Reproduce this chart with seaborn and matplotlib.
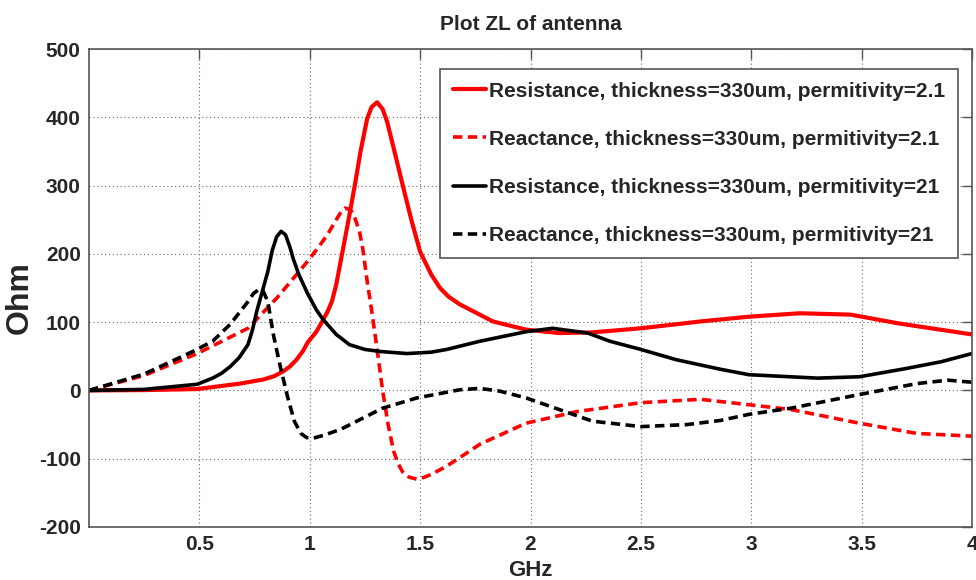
import matplotlib
matplotlib.use('Agg')
import matplotlib.pyplot as plt
import seaborn as sns
import numpy as np
import pandas as pd

##################################################################################
# data (GHz, Ohm)
##################################################################################
# resistance, permitivity 2.1 (red solid)
GHZ_R1 = [0, 0.25, 0.49, 0.684, 0.79, 0.84, 0.88, 0.91, 0.94, 0.97, 0.99, 1.03,
          1.06, 1.08, 1.10, 1.12, 1.137, 1.17, 1.205, 1.23, 1.26, 1.28, 1.305, 1.33,
          1.35, 1.38, 1.42, 1.46, 1.50, 1.55, 1.59, 1.63, 1.68, 1.77, 1.83, 1.98,
          2.13, 2.28, 2.50, 2.77, 2.99, 3.22, 3.45, 3.67, 4.0]
RES_R1 = [0, 0.5, 2, 10, 16, 21, 28, 35, 45, 58, 70, 86,
          103, 115, 130, 155, 184, 240, 302, 350, 398, 415, 422, 412,
          394, 355, 302, 250, 203, 170, 150, 137, 126, 111, 101, 89,
          84, 85, 91, 101, 108, 113, 111, 98, 82]

# reactance, permitivity 2.1 (red dashed)
GHZ_X1 = [0, 0.25, 0.49, 0.72, 0.85, 0.99, 1.04, 1.08, 1.12, 1.145, 1.16, 1.18,
          1.19, 1.205, 1.225, 1.24, 1.26, 1.28, 1.30, 1.33, 1.355, 1.38, 1.40, 1.42,
          1.45, 1.485, 1.52, 1.55, 1.62, 1.70, 1.77, 1.83, 1.98, 2.21, 2.50, 2.77,
          2.99, 3.18, 3.49, 3.75, 4.0]
REA_X1 = [0, 22, 54, 91, 135, 189, 210, 228, 250, 263, 267, 265,
          262, 252, 233, 208, 160, 118, 72, 0, -50, -89, -107, -119,
          -127, -130, -127, -123, -111, -94, -79, -70, -48, -31, -18, -13,
          -21, -28, -48, -63, -67]

# resistance, permitivity 21 (black solid)
GHZ_R2 = [0, 0.25, 0.49, 0.56, 0.60, 0.64, 0.68, 0.72, 0.74, 0.76, 0.785, 0.81,
          0.83, 0.85, 0.87, 0.89, 0.91, 0.925, 0.95, 0.99, 1.03, 1.06, 1.12, 1.18,
          1.25, 1.32, 1.44, 1.55, 1.62, 1.77, 1.83, 1.98, 2.10, 2.26, 2.36, 2.50,
          2.66, 2.86, 2.99, 3.30, 3.49, 3.70, 3.86, 4.0]
RES_R2 = [0, 1.5, 9, 18, 25, 35, 48, 67, 88, 116, 145, 174,
          205, 225, 233, 228, 210, 193, 170, 142, 118, 104, 82, 67,
          60, 57, 54, 56, 60, 72, 76, 86, 91, 84, 72, 60,
          45, 31, 23, 18, 20, 32, 42, 54]

# reactance, permitivity 21 (black dashed)
GHZ_X2 = [0, 0.25, 0.47, 0.56, 0.64, 0.72, 0.745, 0.77, 0.79, 0.81, 0.835, 0.865,
          0.90, 0.93, 0.96, 0.985, 1.015, 1.06, 1.14, 1.33, 1.485, 1.68, 1.77, 1.86,
          1.98, 2.13, 2.28, 2.50, 2.71, 2.86, 2.99, 3.18, 3.49, 3.75, 3.89, 4.0]
REA_X2 = [0, 24, 57, 72, 97, 130, 142, 148, 145, 130, 82, 37,
          -10, -45, -63, -69, -70, -66, -57, -26, -11, 1, 3, -1,
          -11, -28, -45, -53, -50, -44, -35, -26, -6, 10, 15, 12]

LABELS = ['Resistance, thickness=330um, permitivity=2.1',
          'Reactance, thickness=330um, permitivity=2.1',
          'Resistance, thickness=330um, permitivity=21',
          'Reactance, thickness=330um, permitivity=21']

X_TICKS = [0.5, 1, 1.5, 2, 2.5, 3, 3.5, 4]
X_TICK_LABS = ['0.5', '1', '1.5', '2', '2.5', '3', '3.5', '4']
Y_TICKS = [-200, -100, 0, 100, 200, 300, 400, 500]

##################################################################################
# plotting
##################################################################################
sns.set_style('white')
plt.rcParams['font.family'] = ['Liberation Sans', 'DejaVu Sans']
plt.rcParams['font.weight'] = 'bold'
plt.rcParams['axes.unicode_minus'] = False

fig = plt.figure(figsize=(9.76, 5.8), dpi=100)
ax = fig.add_axes([0.0912, 0.0914, 0.9047, 0.8241])

series = [
    (GHZ_R1, RES_R1, LABELS[0], 'red', 3.0, None),
    (GHZ_X1, REA_X1, LABELS[1], 'red', 2.6, (2.6, 1.5)),
    (GHZ_R2, RES_R2, LABELS[2], 'black', 2.6, None),
    (GHZ_X2, REA_X2, LABELS[3], 'black', 2.6, (2.6, 1.5)),
]

for ghz, ohm, lab, col, lw, dsh in series:
    df = pd.DataFrame({'GHz': ghz, 'Ohm': ohm})
    sns.lineplot(data=df, x='GHz', y='Ohm', ax=ax, color=col, lw=lw,
                 label=lab, sort=False, estimator=None,
                 solid_joinstyle='round', dash_joinstyle='round')
    if dsh is not None:
        ax.lines[-1].set_dashes(dsh)

ax.set_xlim(0, 4)
ax.set_ylim(-200, 500)
ax.set_xticks(X_TICKS)
ax.set_xticklabels(X_TICK_LABS)
ax.set_yticks(Y_TICKS)

ax.grid(True, color='#666666', linestyle=(0, (1, 2.5)), lw=0.8)
ax.set_axisbelow(True)
for sp in ax.spines.values():
    sp.set_color('#555555')
    sp.set_linewidth(1.2)

ax.tick_params(direction='in', length=7, width=1, color='#555555',
               top=True, right=True, labelsize=15, pad=6)
for t in ax.get_xticklabels() + ax.get_yticklabels():
    t.set_fontweight('bold')

ax.set_xlabel('GHz', fontsize=16, fontweight='bold', labelpad=4)
ax.set_ylabel('Ohm', fontsize=23, fontweight='bold')
ax.yaxis.set_label_coords(-0.062, 0.48)
ax.set_title('Plot ZL of antenna', fontsize=15, fontweight='bold', pad=14)

leg = ax.legend(loc='upper right', bbox_to_anchor=(0.984, 0.958),
                borderaxespad=0, frameon=True, fancybox=False,
                framealpha=1, edgecolor='#555555', handlelength=1.6,
                handletextpad=0.15, labelspacing=1.4, borderpad=0.6,
                prop={'weight': 'bold', 'size': 15})
leg.get_frame().set_linewidth(1.2)

plt.savefig('out.png', dpi=100)
